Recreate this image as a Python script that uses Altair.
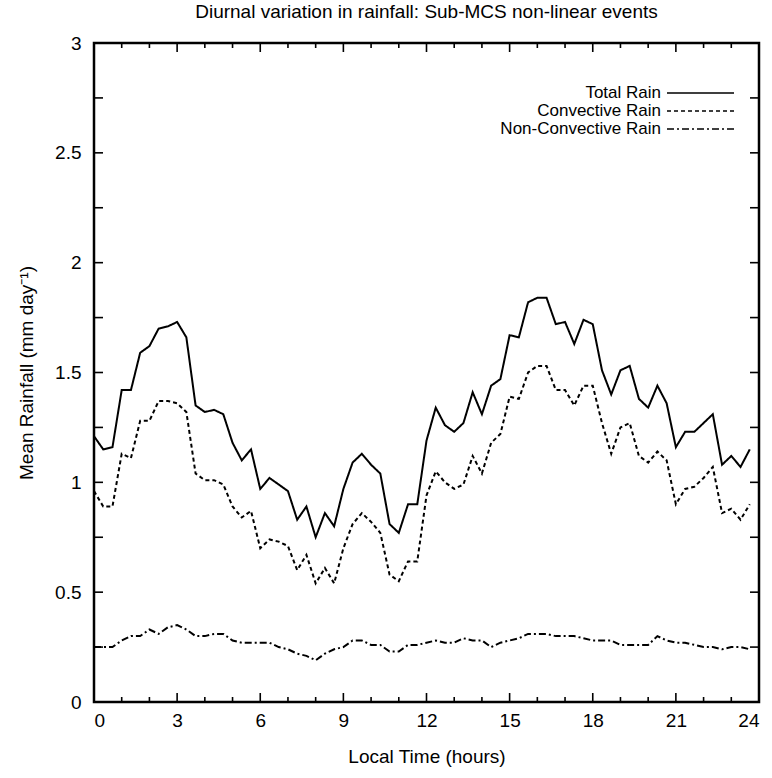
import altair as alt
import pandas as pd

# ---- data ----
hours = [i / 3 for i in range(72)]

total_rain = [
    1.21, 1.15, 1.16, 1.42, 1.42, 1.59, 1.62, 1.70, 1.71, 1.73,
    1.66, 1.35, 1.32, 1.33, 1.31, 1.18, 1.10, 1.15, 0.97, 1.02,
    0.99, 0.96, 0.83, 0.89, 0.75, 0.86, 0.80, 0.97, 1.09, 1.13,
    1.08, 1.04, 0.81, 0.77, 0.90, 0.90, 1.19, 1.34, 1.26, 1.23,
    1.27, 1.41, 1.31, 1.44, 1.47, 1.67, 1.66, 1.82, 1.84, 1.84,
    1.72, 1.73, 1.63, 1.74, 1.72, 1.51, 1.40, 1.51, 1.53, 1.38,
    1.34, 1.44, 1.36, 1.16, 1.23, 1.23, 1.27, 1.31, 1.08, 1.12,
    1.07, 1.15,
]

convective_rain = [
    0.96, 0.89, 0.89, 1.13, 1.11, 1.28, 1.28, 1.37, 1.37, 1.36,
    1.32, 1.04, 1.01, 1.01, 0.99, 0.89, 0.84, 0.87, 0.70, 0.74,
    0.73, 0.71, 0.60, 0.67, 0.54, 0.61, 0.54, 0.70, 0.81, 0.86,
    0.82, 0.77, 0.58, 0.55, 0.64, 0.64, 0.94, 1.05, 1.00, 0.97,
    0.99, 1.12, 1.04, 1.18, 1.22, 1.39, 1.38, 1.50, 1.53, 1.53,
    1.42, 1.42, 1.35, 1.44, 1.44, 1.27, 1.13, 1.25, 1.27, 1.12,
    1.09, 1.14, 1.10, 0.90, 0.97, 0.98, 1.02, 1.07, 0.86, 0.88,
    0.83, 0.90,
]

nonconvective_rain = [
    0.25, 0.25, 0.25, 0.28, 0.30, 0.30, 0.33, 0.31, 0.34, 0.35,
    0.33, 0.30, 0.30, 0.31, 0.31, 0.28, 0.27, 0.27, 0.27, 0.27,
    0.25, 0.24, 0.22, 0.21, 0.19, 0.22, 0.24, 0.25, 0.28, 0.28,
    0.26, 0.26, 0.23, 0.23, 0.26, 0.26, 0.27, 0.28, 0.27, 0.27,
    0.29, 0.28, 0.28, 0.25, 0.27, 0.28, 0.29, 0.31, 0.31, 0.31,
    0.30, 0.30, 0.30, 0.29, 0.28, 0.28, 0.28, 0.26, 0.26, 0.26,
    0.26, 0.30, 0.28, 0.27, 0.27, 0.26, 0.25, 0.25, 0.24, 0.25,
    0.25, 0.24,
]

series_names = ["Total Rain", "Convective Rain", "Non-Convective Rain"]
series_dash = [[1, 0], [4, 3], [7, 3, 2, 3]]

x_major = [0, 3, 6, 9, 12, 15, 18, 21, 24]
x_minor = [h for h in range(25) if h % 3 != 0]
y_ticks = [i * 0.25 for i in range(13)]
y_labels = [0, 0.5, 1, 1.5, 2, 2.5, 3]

title_text = "Diurnal variation in rainfall: Sub-MCS non-linear events"
x_title = "Local Time (hours)"
y_title = "Mean Rainfall (mm day\u207b\u00b9)"

# ---- layout ----
W, H = 665, 659
FONT = "Liberation Sans"

rows = []
for name, vals in zip(series_names, [total_rain, convective_rain, nonconvective_rain]):
    for h, v in zip(hours, vals):
        rows.append({"hour": h, "rain": v, "series": name})
df = pd.DataFrame(rows)

xscale = alt.Scale(domain=[0, 24], nice=False, zero=False)
yscale = alt.Scale(domain=[0, 3], nice=False)

x_axis = alt.Axis(values=x_major, title=x_title, grid=False, ticks=False,
                  domain=False, labelFontSize=19, labelPadding=9,
                  titleFontSize=19, titleFontWeight="normal", titlePadding=17,
                  labelColor="black", titleColor="black", labelFont=FONT,
                  titleFont=FONT)
y_axis = alt.Axis(values=y_labels, format="~g", title=y_title, grid=False,
                  ticks=False, domain=False, labelFontSize=19, labelPadding=13,
                  titleFontSize=19, titleFontWeight="normal", titlePadding=18,
                  labelColor="black", titleColor="black", labelFont=FONT,
                  titleFont=FONT)

lines = alt.Chart(df).mark_line(color="black", strokeWidth=2).encode(
    x=alt.X("hour:Q", scale=xscale, axis=x_axis),
    y=alt.Y("rain:Q", scale=yscale, axis=y_axis),
    strokeDash=alt.StrokeDash("series:N",
                              scale=alt.Scale(domain=series_names, range=series_dash),
                              legend=None),
    detail="series:N",
)

xmaj = pd.DataFrame({"hour": x_major})
xmin = pd.DataFrame({"hour": x_minor})
ytk = pd.DataFrame({"rain": y_ticks})

def xt(data, y0, y1):
    return alt.Chart(data).mark_rule(color="black", strokeWidth=1.6).encode(
        x=alt.X("hour:Q", scale=xscale, axis=x_axis),
        y=alt.value(y0), y2=alt.value(y1))

def yt(x0, x1):
    return alt.Chart(ytk).mark_rule(color="black", strokeWidth=1.6).encode(
        y=alt.Y("rain:Q", scale=yscale, axis=y_axis),
        x=alt.value(x0), x2=alt.value(x1))

ticks = [
    xt(xmaj, H, H - 9), xt(xmaj, 0, 9),
    xt(xmin, H, H - 5), xt(xmin, 0, 5),
    yt(0, 9), yt(W, W - 9),
]

frame = alt.Chart(pd.DataFrame({"k": [0]})).mark_rect(
    fill=None, fillOpacity=0, stroke="black", strokeWidth=2.5).encode(
    x=alt.value(0), x2=alt.value(W), y=alt.value(0), y2=alt.value(H))

# legend (gnuplot style: label then sample line)
leg_df = pd.DataFrame({"series": series_names})
legend_layers = []
for k, name in enumerate(series_names):
    yy = 50 + k * 18
    d = leg_df[leg_df.series == name]
    legend_layers.append(
        alt.Chart(d).mark_text(align="right", baseline="middle", fontSize=17,
                               font=FONT, color="black").encode(
            text="series:N", x=alt.value(567), y=alt.value(yy)))
    legend_layers.append(
        alt.Chart(d).mark_rule(color="black", strokeWidth=1.6,
                               strokeDash=series_dash[k]).encode(
            x=alt.value(573), x2=alt.value(640), y=alt.value(yy)))

chart = alt.layer(lines, *ticks, frame, *legend_layers).properties(
    width=W, height=H,
    title=alt.TitleParams(title_text, fontSize=19, font=FONT, fontWeight="normal",
                          color="black", anchor="middle", offset=12),
    autosize=alt.AutoSizeParams(type="none"),
    padding={"left": 94, "top": 43, "right": 13, "bottom": 76},
).configure_view(stroke=None).configure(background="white")

chart.save("out.html", embed_options={"renderer": "svg", "actions": False})
